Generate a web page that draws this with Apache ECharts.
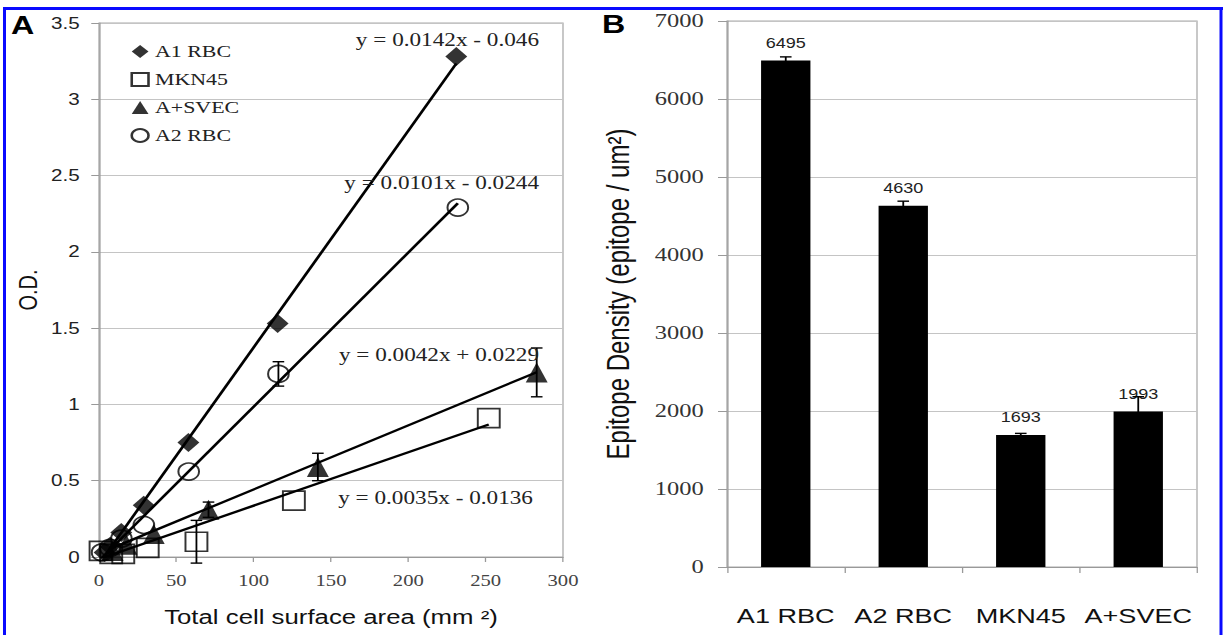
<!DOCTYPE html>
<html><head><meta charset="utf-8">
<script src="https://cdn.jsdelivr.net/npm/echarts@6/dist/echarts.min.js"></script>
<style>
html,body{margin:0;padding:0;background:#fff;overflow:hidden;}
#wrap{width:1225px;height:635px;overflow:hidden;position:relative;background:#fff;}
#chart{width:950px;height:635px;transform:scaleX(1.289474);transform-origin:0 0;}
</style></head><body><div id="wrap"><div id="chart"></div></div>
<script>
// ---------- Panel A data (x: total cell surface area mm², y: O.D.) ----------
const a1X = [3.6, 7.2, 14.4, 28.9, 57.8, 115.5, 231];
const a1Y = [0.03, 0.07, 0.16, 0.34, 0.75, 1.53, 3.28];
const a1Err = [0, 0, 0, 0, 0, 0, 0];

const mkX = [1, 7.9, 15.7, 31.5, 63, 126, 252];
const mkY = [0.04, 0.02, 0.02, 0.06, 0.10, 0.37, 0.91];
const mkErr = [0, 0, 0, 0, 0.14, 0, 0];

const svX = [8.8, 17.7, 35.4, 70.8, 141.5, 283];
const svY = [0.04, 0.08, 0.15, 0.31, 0.59, 1.21];
const svErr = [0, 0, 0, 0.05, 0.09, 0.16];

const a2X = [2, 7.2, 14.5, 29, 58, 116, 232];
const a2Y = [0.03, 0.06, 0.12, 0.21, 0.56, 1.20, 2.29];
const a2Err = [0, 0, 0, 0, 0, 0.08, 0];

// trend lines: [slope, intercept] as printed on the chart
const trendA1 = [0.0142, -0.046];
const trendA2 = [0.0101, -0.0244];
const trendSV = [0.0042, 0.0229];
const trendMK = [0.0035, -0.0136];
const eqTexts = ['y = 0.0142x - 0.046', 'y = 0.0101x - 0.0244', 'y = 0.0042x + 0.0229', 'y = 0.0035x - 0.0136'];

const seriesNames = ['A1 RBC', 'MKN45', 'A+SVEC', 'A2 RBC'];
const xTicksA = [0, 50, 100, 150, 200, 250, 300];
const yTicksA = [0, 0.5, 1, 1.5, 2, 2.5, 3, 3.5];

// ---------- Panel B data ----------
const barCats = ['A1 RBC', 'A2 RBC', 'MKN45', 'A+SVEC'];
const barVals = [6495, 4630, 1693, 1993];
const barErr = [45, 60, 20, 190];
const yTicksB = [0, 1000, 2000, 3000, 4000, 5000, 6000, 7000];

// ---------- build ----------
const S = 1225 / 950;
const u = v => v / S; // convert reference px (x-direction) to unstretched layout px

function pts(xs, ys) { return xs.map((x, i) => [x, ys[i]]); }
function errPts(xs, ys, es) { return xs.map((x, i) => [x, ys[i], es[i]]).filter(d => d[2] > 0); }
function trendPts(xs, t) {
  const lo = Math.min(...xs), hi = Math.max(...xs);
  return [[lo, t[0] * lo + t[1]], [hi, t[0] * hi + t[1]]];
}
function errItem(params, api) {
  const x = api.value(0), y = api.value(1), e = api.value(2);
  const hi = api.coord([x, y + e]), lo = api.coord([x, y - e]);
  const w = 4.5;
  const st = { stroke: '#000', lineWidth: 1.4 };
  return { type: 'group', children: [
    { type: 'line', shape: { x1: hi[0], y1: hi[1], x2: lo[0], y2: lo[1] }, style: st },
    { type: 'line', shape: { x1: hi[0] - w, y1: hi[1], x2: hi[0] + w, y2: hi[1] }, style: st },
    { type: 'line', shape: { x1: lo[0] - w, y1: lo[1], x2: lo[0] + w, y2: lo[1] }, style: st }
  ]};
}

const hollow = { color: 'rgba(0,0,0,0)', borderColor: '#000', borderWidth: 1.6 };
const filled = { color: '#000', borderColor: '#000', borderWidth: 0 };

const scatterDefs = [
  { name: 'A1 RBC', data: pts(a1X, a1Y), symbol: 'diamond', size: [17, 19], style: filled },
  { name: 'MKN45', data: pts(mkX, mkY), symbol: 'rect', size: [17, 19], style: hollow },
  { name: 'A+SVEC', data: pts(svX, svY), symbol: 'triangle', size: [17, 20], style: filled },
  { name: 'A2 RBC', data: pts(a2X, a2Y), symbol: 'circle', size: [16, 17], style: hollow }
];

const series = [];
scatterDefs.forEach(d => {
  series.push({ type: 'scatter', name: d.name, xAxisIndex: 0, yAxisIndex: 0, data: d.data,
    symbol: d.symbol, symbolSize: d.size, itemStyle: d.style, z: 3, silent: true });
});
[[a1X, trendA1], [mkX, trendMK], [svX, trendSV], [a2X, trendA2]].forEach(([xs, t]) => {
  series.push({ type: 'line', xAxisIndex: 0, yAxisIndex: 0, data: trendPts(xs, t), showSymbol: false,
    symbol: 'none', lineStyle: { color: '#000', width: 2.3 }, z: 4, silent: true });
});
series.push({ type: 'custom', xAxisIndex: 0, yAxisIndex: 0, renderItem: errItem, z: 5, silent: true,
  data: [].concat(errPts(a1X, a1Y, a1Err), errPts(mkX, mkY, mkErr), errPts(svX, svY, svErr), errPts(a2X, a2Y, a2Err)) });

series.push({ type: 'bar', xAxisIndex: 1, yAxisIndex: 1, data: barVals, barWidth: '42%',
  itemStyle: { color: '#000' }, silent: true,
  label: { show: true, position: 'top', distance: 11, color: '#222', fontFamily: 'Liberation Sans', fontSize: 14 } });
series.push({ type: 'custom', xAxisIndex: 1, yAxisIndex: 1, renderItem: errItem, z: 5, silent: true,
  encode: { x: 0, y: 1 },
  data: barVals.map((v, i) => [i, v, barErr[i]]) });

const eqPos = [[418, 39.5], [418, 183], [418, 355], [413.3, 498]];
const graphics = [
  { type: 'rect', shape: { x: u(4), y: 7, width: u(1219), height: 3 }, style: { fill: '#0a0aff' } },
  { type: 'rect', shape: { x: u(3), y: 7, width: u(3), height: 628 }, style: { fill: '#0a0aff' } },
  { type: 'rect', shape: { x: u(1219.5), y: 7, width: u(3), height: 628 }, style: { fill: '#0a0aff' } },
  { type: 'text', left: u(11), top: 13, style: { text: 'A', font: 'bold 25px "Liberation Sans"', fill: '#000' } },
  { type: 'text', left: u(602), top: 12, style: { text: 'B', font: 'bold 25px "Liberation Sans"', fill: '#000' } }
];
eqTexts.forEach((t, i) => {
  graphics.push({ type: 'text', x: eqPos[i][0], y: eqPos[i][1], z: 10,
    style: { text: t, font: '18px "Liberation Serif"', fill: '#222', textAlign: 'right', textVerticalAlign: 'middle' } });
});

const chart = echarts.init(document.getElementById('chart'), null, { renderer: 'svg' });
chart.setOption({
  animation: false,
  backgroundColor: '#fff',
  grid: [
    { left: u(99), right: 950 - u(563), top: 23, bottom: 78, show: true, borderColor: '#aaa', borderWidth: 1, containLabel: false },
    { left: u(727), right: 950 - u(1197), top: 21, bottom: 68, show: true, borderColor: '#aaa', borderWidth: 1, containLabel: false }
  ],
  legend: {
    orient: 'vertical', left: u(124), top: 38, itemWidth: 13, itemHeight: 13, itemGap: 11,
    data: seriesNames, selectedMode: false,
    textStyle: { fontFamily: 'Liberation Serif', fontSize: 17, color: '#222' }
  },
  xAxis: [
    { type: 'value', gridIndex: 0, min: xTicksA[0], max: xTicksA[xTicksA.length - 1], interval: 50,
      name: 'Total cell surface area (mm ²)', nameLocation: 'middle', nameGap: 50,
      nameTextStyle: { fontFamily: 'Liberation Sans', fontSize: 20, color: '#111' },
      axisLine: { show: true, lineStyle: { color: '#999' } },
      axisTick: { show: true, length: 5, lineStyle: { color: '#999' } },
      axisLabel: { margin: 16, fontFamily: 'Liberation Serif', fontSize: 16, color: '#444' },
      splitLine: { show: false } },
    { type: 'category', gridIndex: 1, data: barCats,
      axisLine: { show: true, lineStyle: { color: '#999' } },
      axisTick: { show: true, length: 6, alignWithLabel: false, lineStyle: { color: '#999' } },
      axisLabel: { interval: 0, margin: 38, fontFamily: 'Liberation Sans', fontSize: 21, color: '#111' } }
  ],
  yAxis: [
    { type: 'value', gridIndex: 0, min: yTicksA[0], max: yTicksA[yTicksA.length - 1], interval: 0.5,
      name: 'O.D.', nameLocation: 'middle', nameGap: 45, nameRotate: 90,
      nameTextStyle: { fontFamily: 'Liberation Sans', fontSize: 20, color: '#111' },
      axisLine: { show: true, lineStyle: { color: '#999' } },
      axisTick: { show: true, length: 6, lineStyle: { color: '#999' } },
      axisLabel: { margin: 15, fontFamily: 'Liberation Sans', fontSize: 16, color: '#222' },
      splitLine: { show: true, lineStyle: { color: '#c4c4c4' } } },
    { type: 'value', gridIndex: 1, min: yTicksB[0], max: yTicksB[yTicksB.length - 1], interval: 1000,
      name: 'Epitope Density (epitope / um²)', nameLocation: 'middle', nameGap: 72, nameRotate: 90,
      nameTextStyle: { fontFamily: 'Liberation Sans', fontSize: 24, color: '#111' },
      axisLine: { show: true, lineStyle: { color: '#999' } },
      axisTick: { show: true, length: 7, lineStyle: { color: '#999' } },
      axisLabel: { margin: 18, fontFamily: 'Liberation Serif', fontSize: 19, color: '#333', formatter: v => String(v) },
      splitLine: { show: true, lineStyle: { color: '#c4c4c4' } } }
  ],
  graphic: graphics,
  series: series
});
</script></body></html>
